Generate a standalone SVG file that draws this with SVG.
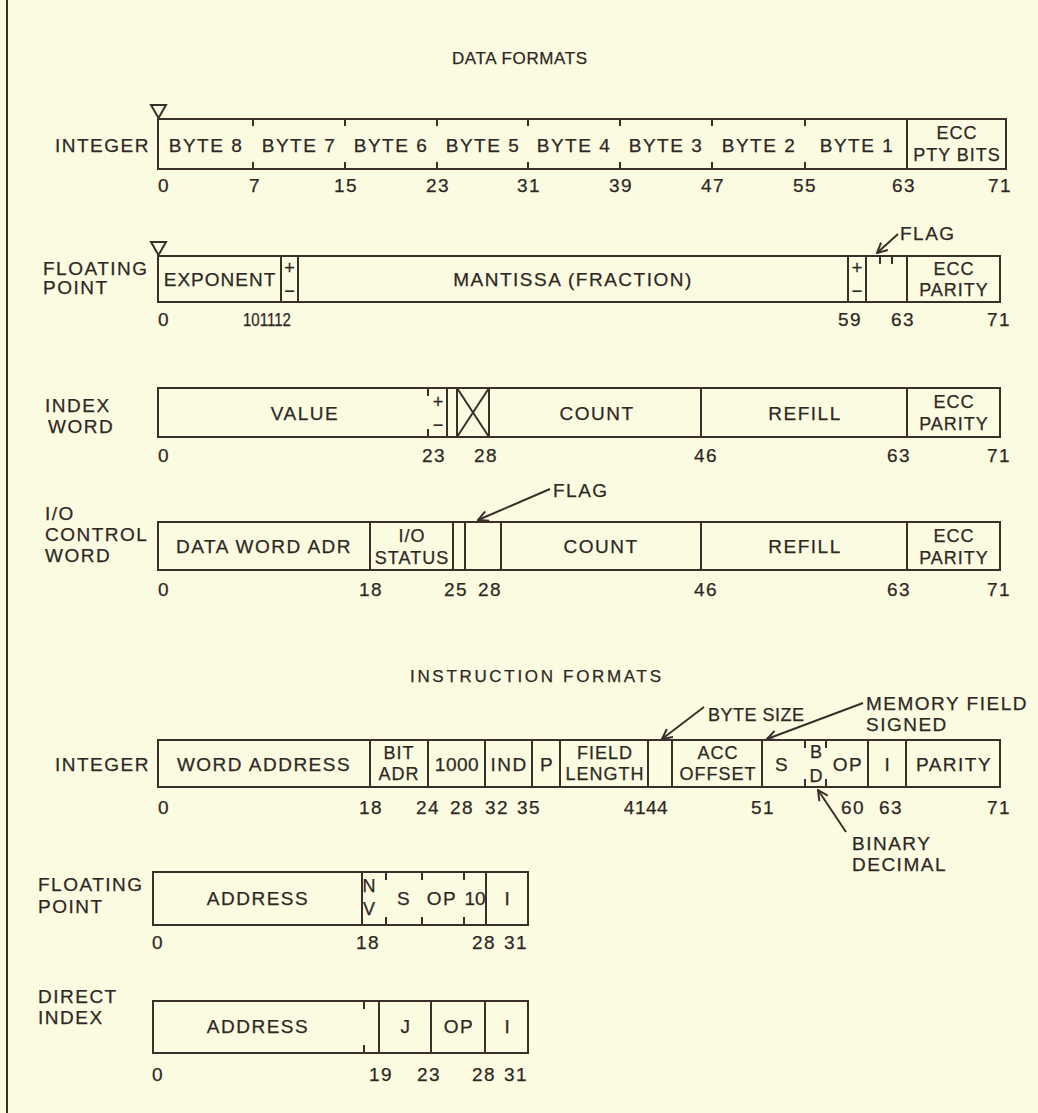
<svg xmlns="http://www.w3.org/2000/svg" width="1038" height="1113" viewBox="0 0 1038 1113">
<defs>
<style>
.ln{stroke:#3a2f2a;stroke-width:2;fill:none}
.t{font-family:"Liberation Sans",Arial,sans-serif;font-size:19px;fill:#2f2723;stroke:#2f2723;stroke-width:0.25px;letter-spacing:1.5px}
.s{font-size:18px;letter-spacing:1px}
.x{font-size:18px;letter-spacing:0}
.m{text-anchor:middle}
</style>
<marker id="ah" viewBox="0 0 12 12" refX="11" refY="6" markerWidth="12" markerHeight="12" markerUnits="userSpaceOnUse" orient="auto">
<path d="M1,1 L11,6 L1,11" fill="none" stroke="#3a2f2a" stroke-width="2"/>
</marker>
</defs>
<rect width="1038" height="1113" fill="#fafbe1"/>
<line class="ln" x1="7" y1="0" x2="7" y2="1113"/>

<text id="title-data" class="t m" x="520" y="64" style="font-size:17px;letter-spacing:1px" textLength="136" lengthAdjust="spacing">DATA FORMATS</text>

<g id="data-integer">
<text class="t" x="55" y="152">INTEGER</text>
<polygon class="ln" points="151,105 166,105 158.5,118"/>
<rect class="ln" x="158" y="119" width="848" height="50"/>
<path class="ln" d="M253,119v7M253,162v7M345,119v7M345,162v7M437,119v7M437,162v7M528,119v7M528,162v7M620,119v7M620,162v7M712,119v7M712,162v7M805,119v7M805,162v7M907,119v50"/>
<g class="t m">
<text x="206" y="152">BYTE 8</text><text x="299" y="152">BYTE 7</text><text x="391" y="152">BYTE 6</text><text x="483" y="152">BYTE 5</text><text x="574" y="152">BYTE 4</text><text x="666" y="152">BYTE 3</text><text x="759" y="152">BYTE 2</text><text x="857" y="152">BYTE 1</text>
<text class="s" x="957" y="139">ECC</text><text class="s" x="957" y="161">PTY BITS</text>
<text x="164" y="192">0</text><text x="255" y="192">7</text><text x="346" y="192">15</text><text x="438" y="192">23</text><text x="529" y="192">31</text><text x="621" y="192">39</text><text x="713" y="192">47</text><text x="805" y="192">55</text><text x="904" y="192">63</text><text x="1000" y="192">71</text>
</g>
</g>

<g id="data-floating-point">
<text class="t" x="43" y="275">FLOATING</text>
<text class="t" x="43" y="294">POINT</text>
<polygon class="ln" points="151,242 166,242 158.5,255"/>
<rect class="ln" x="158" y="256" width="842" height="46"/>
<path class="ln" d="M281,256v46M298,256v46M848,256v46M866,256v46M907,256v46M880,256v8M892,256v8"/>
<g class="t m">
<text x="220" y="286" style="letter-spacing:1px">EXPONENT</text>
<text class="x" x="289.5" y="274">+</text><text class="x" x="289.5" y="297">−</text>
<text x="573" y="286">MANTISSA (FRACTION)</text>
<text class="x" x="857" y="274">+</text><text class="x" x="857" y="297">−</text>
<text class="s" x="954" y="275">ECC</text><text class="s" x="954" y="296">PARITY</text>
<text x="164" y="326">0</text><text x="267" y="326" style="letter-spacing:0" textLength="48" lengthAdjust="spacingAndGlyphs">101112</text><text x="850" y="326">59</text><text x="903" y="326">63</text><text x="999" y="326">71</text>
</g>
<text class="t" x="900" y="240">FLAG</text>
</g>

<g id="data-index-word">
<text class="t" x="45" y="412">INDEX</text>
<text class="t" x="48" y="433">WORD</text>
<rect class="ln" x="158" y="388" width="842" height="49"/>
<path class="ln" d="M428,388v8M428,429v8M447,388v49M457,388v49M489,388v49M457,388L489,437M489,388L457,437M701,388v49M907,388v49"/>
<g class="t m">
<text x="305" y="420">VALUE</text>
<text class="x" x="438" y="408">+</text><text class="x" x="438" y="431">−</text>
<text x="597" y="420">COUNT</text>
<text x="805" y="420">REFILL</text>
<text class="s" x="954" y="408">ECC</text><text class="s" x="954" y="430">PARITY</text>
<text x="164" y="462">0</text><text x="434" y="462">23</text><text x="486" y="462">28</text><text x="706" y="462">46</text><text x="899" y="462">63</text><text x="999" y="462">71</text>
</g>
</g>

<g id="data-io-control-word">
<text class="t" x="45" y="520">I/O</text>
<text class="t" x="45" y="541">CONTROL</text>
<text class="t" x="45" y="562">WORD</text>
<rect class="ln" x="158" y="522" width="842" height="48"/>
<path class="ln" d="M370,522v48M453,522v48M465,522v48M501,522v48M701,522v48M907,522v48"/>
<g class="t m">
<text x="264" y="553">DATA WORD ADR</text>
<text class="s" x="412" y="542">I/O</text><text class="s" x="412" y="564">STATUS</text>
<text x="601" y="553">COUNT</text>
<text x="805" y="553">REFILL</text>
<text class="s" x="954" y="542">ECC</text><text class="s" x="954" y="564">PARITY</text>
<text x="164" y="596">0</text><text x="371" y="596">18</text><text x="456" y="596">25</text><text x="490" y="596">28</text><text x="706" y="596">46</text><text x="899" y="596">63</text><text x="999" y="596">71</text>
</g>
<text class="t" x="553" y="497">FLAG</text>
</g>

<text id="title-instruction" class="t m" x="536" y="682" style="font-size:17px;letter-spacing:1px" textLength="252" lengthAdjust="spacing">INSTRUCTION FORMATS</text>

<g id="instr-integer">
<text class="t" x="55" y="771">INTEGER</text>
<rect class="ln" x="158" y="740" width="842" height="47"/>
<path class="ln" d="M370,740v47M428,740v47M485,740v47M532,740v47M560,740v47M648,740v47M672,740v47M762,740v47M868,740v47M906,740v47M805,740v8M805,779v8M826,740v8M826,779v8"/>
<g class="t m">
<text x="264" y="771">WORD ADDRESS</text>
<text class="s" x="399" y="759">BIT</text><text class="s" x="399" y="780">ADR</text>
<text x="457" y="771" style="letter-spacing:0.5px">1000</text>
<text x="509" y="771">IND</text>
<text x="547" y="771">P</text>
<text class="s" x="605" y="759">FIELD</text><text class="s" x="605" y="780">LENGTH</text>
<text class="s" x="718" y="759">ACC</text><text class="s" x="718" y="780">OFFSET</text>
<text x="782" y="771">S</text>
<text class="x" x="816" y="758">B</text><text class="x" x="816" y="782">D</text>
<text x="848" y="771">OP</text>
<text x="888" y="771">I</text>
<text x="954" y="771">PARITY</text>
<text x="164" y="814">0</text><text x="371" y="814">18</text><text x="428" y="814">24</text><text x="462" y="814">28</text><text x="497" y="814">32</text><text x="529" y="814">35</text><text x="646" y="814" style="letter-spacing:0.5px">4144</text><text x="763" y="814">51</text><text x="853" y="814">60</text><text x="891" y="814">63</text><text x="999" y="814">71</text>
</g>
<text class="t" x="708" y="721" style="font-size:18px;letter-spacing:0.5px">BYTE SIZE</text>
<text class="t" x="866" y="710">MEMORY FIELD</text>
<text class="t" x="866" y="731">SIGNED</text>
<text class="t" x="852" y="850">BINARY</text>
<text class="t" x="852" y="871">DECIMAL</text>
</g>

<g id="instr-floating-point">
<text class="t" x="38" y="891">FLOATING</text>
<text class="t" x="38" y="913">POINT</text>
<rect class="ln" x="153" y="872" width="375" height="53"/>
<path class="ln" d="M362,872v53M486,872v53M386,872v8M386,917v8M422,872v8M422,917v8M464,872v8M464,917v8"/>
<g class="t m">
<text x="258" y="905">ADDRESS</text>
<text class="x" x="369" y="892">N</text><text class="x" x="369" y="915">V</text>
<text x="404" y="905">S</text>
<text x="442" y="905">OP</text>
<text x="475" y="905" style="letter-spacing:0">10</text>
<text x="508" y="905">I</text>
<text x="158" y="949">0</text><text x="368" y="949">18</text><text x="484" y="949">28</text><text x="516" y="949">31</text>
</g>
</g>

<g id="instr-direct-index">
<text class="t" x="38" y="1003">DIRECT</text>
<text class="t" x="38" y="1024">INDEX</text>
<rect class="ln" x="153" y="1001" width="375" height="52"/>
<path class="ln" d="M364,1001v8M364,1045v8M379,1001v52M431,1001v52M485,1001v52"/>
<g class="t m">
<text x="258" y="1033">ADDRESS</text>
<text x="406" y="1033">J</text>
<text x="459" y="1033">OP</text>
<text x="508" y="1033">I</text>
<text x="158" y="1081">0</text><text x="381" y="1081">19</text><text x="429" y="1081">23</text><text x="484" y="1081">28</text><text x="516" y="1081">31</text>
</g>
</g>

<g id="connectors">
<line class="ln" x1="898" y1="234" x2="877" y2="253" marker-end="url(#ah)"/>
<line class="ln" x1="550" y1="489" x2="478" y2="520" marker-end="url(#ah)"/>
<line class="ln" x1="704" y1="707" x2="662" y2="739" marker-end="url(#ah)"/>
<line class="ln" x1="863" y1="703" x2="767" y2="739" marker-end="url(#ah)"/>
<line class="ln" x1="846" y1="832" x2="818" y2="790" marker-end="url(#ah)"/>
</g>
</svg>
